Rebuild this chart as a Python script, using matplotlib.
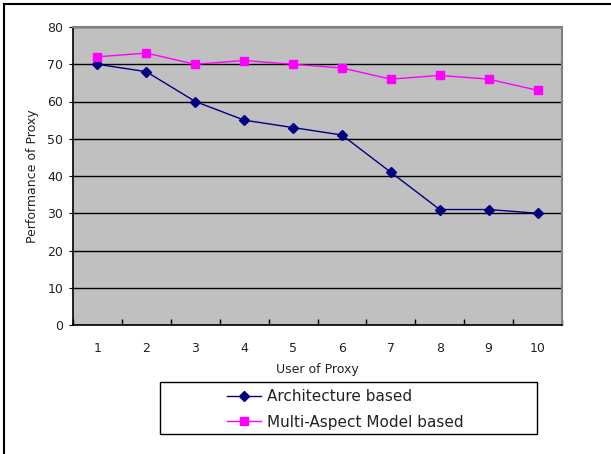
import matplotlib.pyplot as plt
from matplotlib.lines import Line2D
from matplotlib.patches import Rectangle

users = [1, 2, 3, 4, 5, 6, 7, 8, 9, 10]
architecture = [70, 68, 60, 55, 53, 51, 41, 31, 31, 30]
multi_aspect = [72, 73, 70, 71, 70, 69, 66, 67, 66, 63]

W, H = 611, 454
fig = plt.figure(figsize=(W / 100, H / 100), dpi=100)
ax = fig.add_axes([73 / W, 1 - 325 / H, 489 / W, 298 / H])
ax.set_facecolor('#c0c0c0')

ax.plot(users, architecture, color='#000080', marker='D', markersize=5,
        linewidth=1, label='Architecture based')
ax.plot(users, multi_aspect, color='#ff00ff', marker='s', markersize=6,
        linewidth=1, label='Multi-Aspect Model based')

ax.set_xlim(0.5, 10.5)
ax.set_ylim(0, 80)
ax.set_yticks(range(0, 81, 10))
ax.yaxis.grid(True, color='black', linewidth=1)
ax.set_axisbelow(True)

# category ticks between points, labels centred on points
ax.set_xticks([x + 0.5 for x in range(0, 11)])
ax.set_xticklabels([])
ax.set_xticks(users, minor=True)
ax.set_xticklabels([str(u) for u in users], minor=True)
ax.tick_params(axis='x', which='major', direction='in', length=4, width=1)
ax.tick_params(axis='x', which='minor', length=0, pad=12, labelsize=9,
               labelcolor='#222222')
ax.tick_params(axis='y', direction='out', length=3, labelsize=9, pad=4,
               labelcolor='#222222')

ax.spines['top'].set_color('#808080')
ax.spines['right'].set_color('#808080')
ax.spines['top'].set_linewidth(1.5)
ax.spines['right'].set_linewidth(1.5)
ax.spines['left'].set_linewidth(1.2)
ax.spines['bottom'].set_linewidth(1.2)

ax.set_xlabel('User of Proxy', fontsize=9, labelpad=6, color='#222222')
ax.set_ylabel('Performance of Proxy', fontsize=9, labelpad=6, color='#222222')

# legend box
fig.add_artist(Rectangle((160 / W, 1 - 434 / H), 377 / W, 52 / H,
                         transform=fig.transFigure, fill=False,
                         edgecolor='black', linewidth=1))
leg = fig.legend(loc='upper left', bbox_to_anchor=(227 / W, 1 - 389 / H),
                 fontsize=11, frameon=False, borderpad=0, borderaxespad=0,
                 handlelength=2.2, handletextpad=0.4, labelspacing=0.7)
for t in leg.get_texts():
    t.set_color('#222222')

# chart area border (partly cropped in the original)
fig.add_artist(Line2D([4 / W, 4 / W], [0, 1 - 4 / H], color='black', linewidth=1.5))
fig.add_artist(Line2D([4 / W, 1], [1 - 4 / H, 1 - 4 / H], color='black', linewidth=1.5))

fig.savefig('out.png', dpi=100)
